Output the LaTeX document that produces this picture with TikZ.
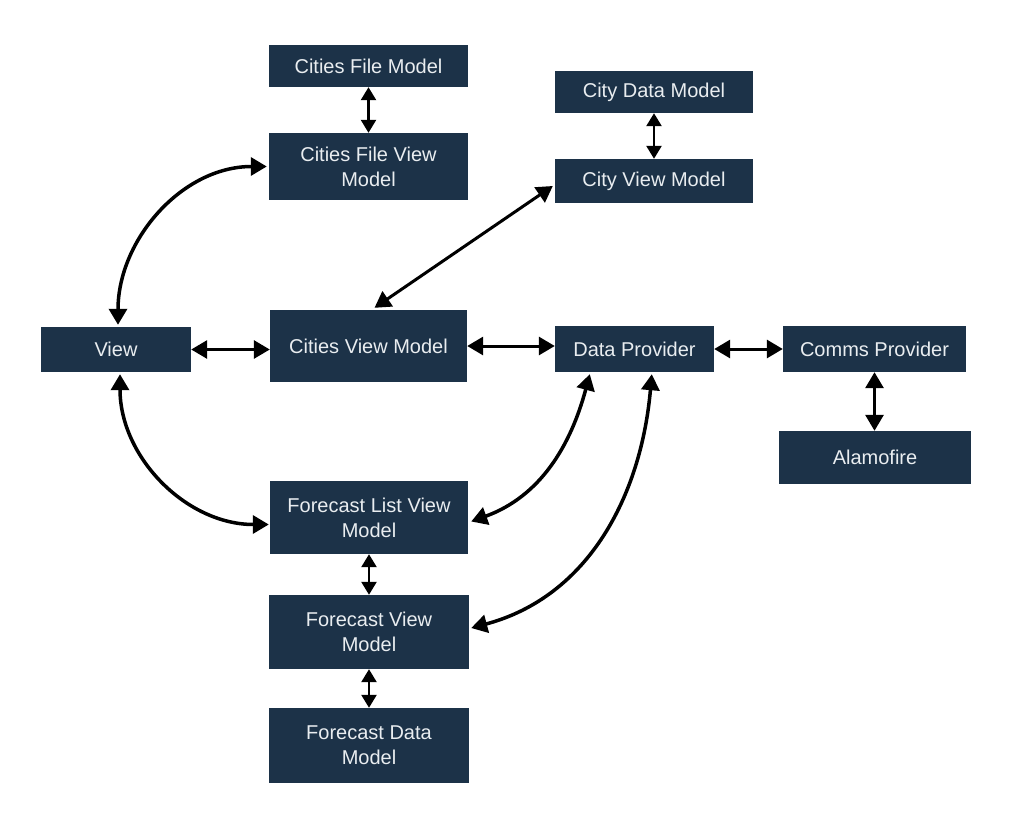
\documentclass[tikz,border=0pt]{standalone}
\usepackage{fontspec}
\setmainfont{Liberation Sans}
\usepackage{tikz}
\usetikzlibrary{arrows.meta,calc}
\definecolor{boxnavy}{HTML}{1C3248}
\definecolor{boxtext}{HTML}{E9EDF0}
\tikzset{%
  tipA/.tip={Triangle[width=18pt,length=16pt]},
  tipB/.tip={Triangle[width=15pt,length=13pt]},
  box/.style={fill=boxnavy, text=boxtext, inner sep=0pt, align=center,
    font=\fontsize{20}{25}\selectfont},
  link/.style={black, line width=3pt, tipA-tipA},
  curvelink/.style={black, line width=3.5pt, tipA-tipA},
  shortlink/.style={black, line width=2.5pt, tipB-tipB}
}

\begin{document}
\begin{tikzpicture}[x=1pt,y=-1pt]
    \useasboundingbox[fill=white] (0,0) rectangle (1023,830);
    % boxes
    \node[box, minimum width=199pt, minimum height=42pt] (cfm) at (368.5,66) {Cities File Model};
    \node[box, minimum width=199pt, minimum height=67pt] (cfvm) at (368.5,166.5) {Cities File View\\Model};
    \node[box, minimum width=198pt, minimum height=42pt] (cdm) at (654,92) {City Data Model};
    \node[box, minimum width=198pt, minimum height=44pt] (cvm) at (654,181) {City View Model};
    \node[box, minimum width=150pt, minimum height=45pt] (view) at (116,349.5) {View};
    \node[box, minimum width=197pt, minimum height=72pt] (citiesvm) at (368.5,346) {Cities View Model};
    \node[box, minimum width=159pt, minimum height=46pt] (dp) at (634.5,349) {Data Provider};
    \node[box, minimum width=183pt, minimum height=46pt] (comms) at (874.5,349) {Comms Provider};
    \node[box, minimum width=192pt, minimum height=53pt] (alamo) at (875,457.5) {Alamofire};
    \node[box, minimum width=198pt, minimum height=73pt] (flvm) at (369,517.5) {Forecast List View\\Model};
    \node[box, minimum width=200pt, minimum height=74pt] (fvm) at (369,632) {Forecast View\\Model};
    \node[box, minimum width=200pt, minimum height=75pt] (fdm) at (369,745.5) {Forecast Data\\Model};

    % short vertical links
    \draw[shortlink] (cfm.south) -- (cfvm.north);
    \draw[shortlink] (cdm.south) -- (cvm.north);
    \draw[shortlink] (flvm.south) -- (fvm.north);
    \draw[shortlink] (fvm.south) -- (fdm.north);
    \draw[link] (comms.south) -- (comms.south |- alamo.north);

    % horizontal links
    \draw[link] (view.east) -- (view.east -| citiesvm.west);
    \draw[link] (citiesvm.east) -- (citiesvm.east -| dp.west);
    \draw[link] (dp.east) -- (dp.east -| comms.west);
    \draw[link] ($(citiesvm.north)+(6,-2)$) -- ($(cvm.west)+(-2,5)$);

    % curved links
    \draw[curvelink] ($(view.north)+(2,-2)$) to[out=90,in=180] ($(cfvm.west)+(-2,0)$);
    \draw[curvelink] ($(view.south)+(4,2)$) to[out=-90,in=180] ($(flvm.west)+(-1,7)$);
    \draw[curvelink] ($(dp.south west)+(35,2)$) to[out=-105,in=20] ($(flvm.east)+(3,4)$);
    \draw[curvelink] ($(dp.south west)+(97,2)$) to[out=-95,in=15] ($(fvm.east)+(2,-4)$);
\end{tikzpicture}
\end{document}
